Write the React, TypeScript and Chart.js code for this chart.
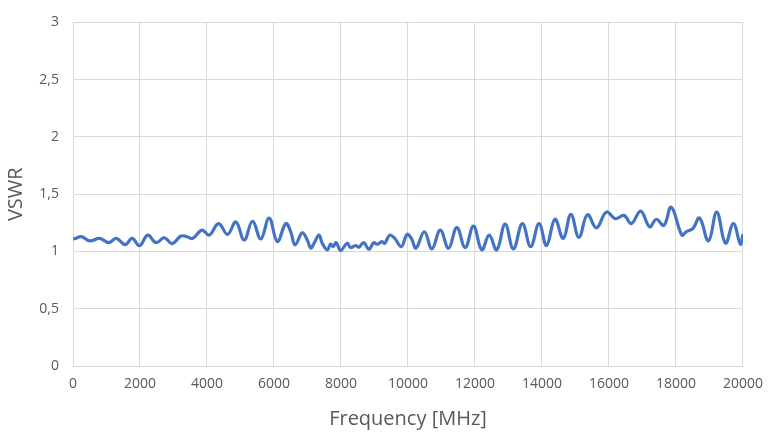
import { useRef, useEffect } from 'react';
import { Chart, registerables } from 'chart.js';

Chart.register(...registerables);

// frequency in MHz
const freqMHz = [
  0, 80, 250, 497, 795, 1071, 1290, 1560, 1767, 1985, 2232, 2480, 2729, 2958, 3226, 3423, 3571, 3851,
  4068, 4345, 4613, 4863, 5110, 5357, 5607, 5854, 6101, 6351, 6500, 6628, 6845, 6994, 7095, 7193,
  7342, 7440, 7589, 7690, 7768, 7857, 7988, 8185, 8286, 8435, 8533, 8682, 8830, 8979, 9077, 9226,
  9307, 9455, 9604, 9803, 9970, 10101, 10238, 10488, 10714, 10964, 11211, 11458, 11708, 11955,
  12202, 12423, 12649, 12899, 13146, 13414, 13661, 13911, 14137, 14387, 14634, 14863, 15101, 15357,
  15625, 15923, 16190, 16449, 16667, 16946, 17214, 17411, 17640, 17857, 18176, 18304, 18503, 18702,
  18970, 19217, 19476, 19714, 19923, 20000,
];

const vswr = [
  1.11, 1.114, 1.13, 1.092, 1.114, 1.077, 1.114, 1.06, 1.114, 1.05, 1.143, 1.077, 1.12, 1.069, 1.135,
  1.126, 1.114, 1.186, 1.143, 1.243, 1.149, 1.258, 1.1, 1.264, 1.109, 1.292, 1.086, 1.243, 1.172,
  1.057, 1.163, 1.1, 1.029, 1.07, 1.143, 1.072, 1.014, 1.063, 1.043, 1.077, 1.009, 1.072, 1.034,
  1.052, 1.037, 1.077, 1.02, 1.077, 1.063, 1.086, 1.072, 1.143, 1.114, 1.043, 1.149, 1.114, 1.029,
  1.172, 1.023, 1.186, 1.029, 1.209, 1.034, 1.221, 1.014, 1.143, 1.014, 1.238, 1.023, 1.243, 1.043,
  1.243, 1.052, 1.281, 1.114, 1.324, 1.123, 1.321, 1.206, 1.344, 1.286, 1.315, 1.243, 1.352, 1.215,
  1.281, 1.229, 1.387, 1.143, 1.172, 1.2, 1.292, 1.092, 1.344, 1.072, 1.243, 1.063, 1.152,
];

const xTitle = 'Frequency [MHz]';
const yTitle = 'VSWR';

const FONT = "'Open Sans', sans-serif";

export default function App() {
  const canvasRef = useRef<HTMLCanvasElement>(null);
  const chartRef = useRef<Chart | null>(null);

  useEffect(() => {
    if (!canvasRef.current) return;
    if (chartRef.current) chartRef.current.destroy();

    const points = freqMHz.map((f, i) => ({ x: f, y: vswr[i] }));

    chartRef.current = new Chart(canvasRef.current, {
      type: 'line',
      data: {
        datasets: [
          {
            data: points,
            borderColor: '#4472C4',
            borderWidth: 3.2,
            pointRadius: 0,
            tension: 0.4,
            fill: false,
          },
        ],
      },
      options: {
        responsive: false,
        animation: false,
        layout: { padding: { left: 0, right: 25, top: 17, bottom: 0 } },
        plugins: { legend: { display: false }, tooltip: { enabled: false } },
        scales: {
          x: {
            type: 'linear',
            min: 0,
            max: 20000,
            ticks: {
              stepSize: 2000,
              color: '#595959',
              padding: 10,
              maxRotation: 0,
              font: { family: FONT, size: 14 },
              callback: (v: any) => String(v),
            },
            grid: { color: '#d9d9d9', drawTicks: false },
            border: { color: '#d9d9d9' },
            title: {
              display: true,
              text: xTitle,
              color: '#595959',
              font: { family: FONT, size: 20 },
              padding: { top: 2, bottom: 8 },
            },
            afterFit: (s: any) => {
              s.height = 73;
            },
          },
          y: {
            min: 0,
            max: 3,
            ticks: {
              stepSize: 0.5,
              color: '#595959',
              padding: 14,
              font: { family: FONT, size: 14 },
              callback: (v: any) => String(v).replace('.', ','),
            },
            grid: { color: '#d9d9d9', drawTicks: false },
            border: { color: '#d9d9d9' },
            title: {
              display: true,
              text: yTitle,
              color: '#595959',
              font: { family: FONT, size: 20 },
              padding: { top: 4, bottom: 0 },
            },
            afterFit: (s: any) => {
              s.width = 73;
            },
          },
        },
      },
    });

    return () => {
      if (chartRef.current) chartRef.current.destroy();
    };
  }, []);

  return (
    <div style={{ position: 'absolute', left: 0, top: 0, width: 773, height: 439, background: '#fff' }}>
      <canvas ref={canvasRef} width={773} height={439}></canvas>
    </div>
  );
}
